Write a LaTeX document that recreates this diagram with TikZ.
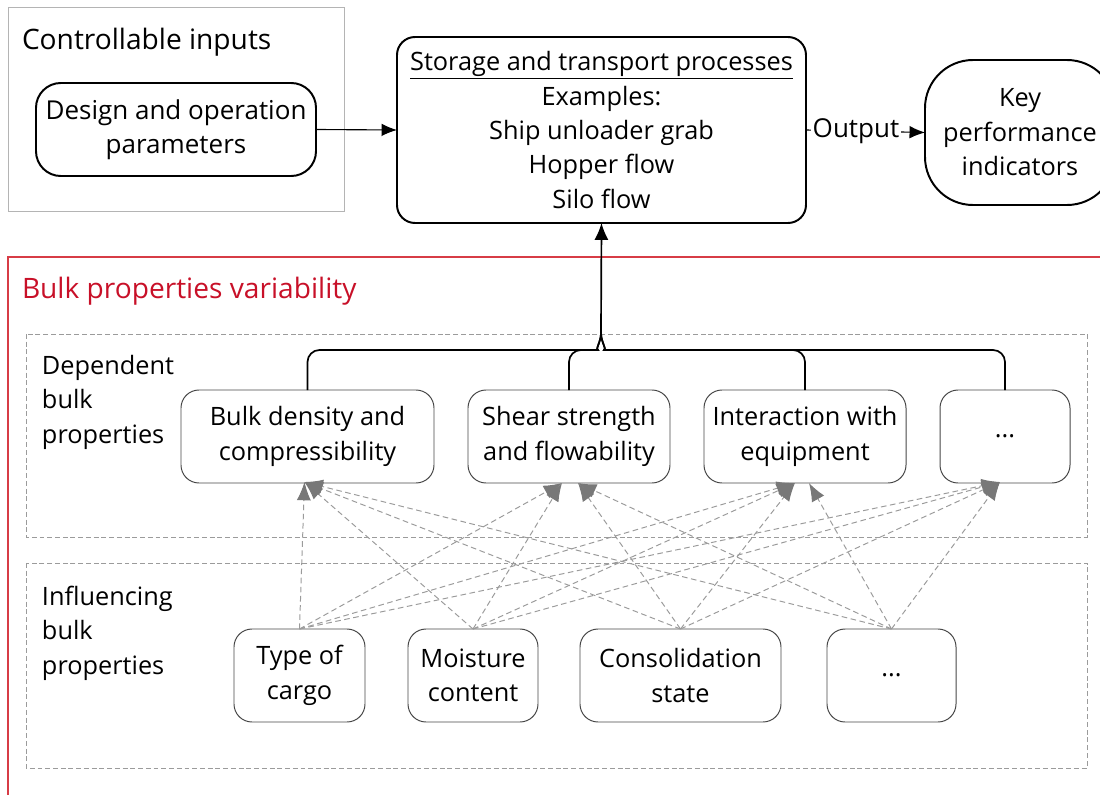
\documentclass[tikz,border=0pt]{standalone}
\usepackage{fontspec}
\setmainfont{Open Sans}
\usetikzlibrary{arrows.meta,calc}
\definecolor{redline}{RGB}{215,60,70}
\definecolor{redtext}{RGB}{200,16,40}
\definecolor{arrgray}{RGB}{120,120,120}
\definecolor{dashgray}{RGB}{155,155,155}
\definecolor{boxgray}{RGB}{180,180,180}
\definecolor{thinline}{RGB}{70,70,70}
\begin{document}
\begin{tikzpicture}[x=0.025cm,y=-0.025cm,
  every node/.style={inner sep=0pt, outer sep=0pt},
  topfont/.style={font=\fontsize{18.5pt}{24.5pt}\selectfont},
  lowfont/.style={font=\fontsize{18pt}{24.5pt}\selectfont},
  labfont/.style={font=\fontsize{20pt}{24.5pt}\selectfont},
  thickbox/.style={draw=black, line width=1.4pt, align=center, topfont},
  thinbox/.style={draw=thinline, line width=0.7pt, rounded corners=0.45cm, align=center, lowfont, minimum height=93*0.025cm},
  grouprect/.style={draw=dashgray, line width=0.7pt, dash pattern=on 3.5pt off 2pt},
  infl/.style={draw=dashgray, line width=0.7pt, dash pattern=on 4pt off 2.5pt, -{Latex[length=13pt,width=10pt,color=arrgray,fill=arrgray]}},
  blackarrow/.style={-{Latex[length=11pt,width=9pt]}, line width=0.8pt},
]
\useasboundingbox (0,0) rectangle (1100,795);
\clip (0,0) rectangle (1100,795);

% controllable inputs
\draw[draw=boxgray, line width=0.7pt] (8,7) rectangle (344,211);
\node[labfont, anchor=west] (ctrlt) at (22,42) {Controllable inputs};
\node[thickbox, rounded corners=0.62cm, minimum width=280*0.025cm, minimum height=93*0.025cm] (design) at (176,129.5) {Design and operation\\parameters};

% processes
\node[thickbox, font=\fontsize{18pt}{24.5pt}\selectfont, rounded corners=0.45cm, minimum width=409*0.025cm, minimum height=186*0.025cm] (store) at (601.5,130) {\underline{Storage and transport processes}\\Examples:\\Ship unloader grab\\Hopper flow\\Silo flow};
\node[thickbox, font=\fontsize{18pt}{24.5pt}\selectfont, rounded corners=1.2cm, minimum width=190*0.025cm, minimum height=145*0.025cm] (kpi) at (1020,132.5) {Key\\performance\\indicators};

\draw[blackarrow] (design.east) -- (store.west);
\draw[blackarrow] (store.east) -- node[pos=0.42, fill=white, topfont, inner sep=1pt] (outl) {Output} (kpi.west);

% bulk properties
\draw[draw=redline, line width=0.8pt] (8,257) rectangle (1120,810);
\node[labfont, anchor=west, text=redtext] (bulkt) at (22,291) {Bulk properties variability};

\draw[grouprect] (26,334) rectangle (1087,537);
\node[lowfont, anchor=north west, align=left] (dept) at (42,355) {Dependent\\bulk\\properties};
\draw[grouprect] (26,563) rectangle (1087,768);
\node[lowfont, anchor=north west, align=left] (inft) at (42,586) {Influencing\\bulk\\properties};

\node[thinbox, minimum width=253*0.025cm] (b1) at (307.5,436.5) {Bulk density and\\compressibility};
\node[thinbox, minimum width=202*0.025cm] (b2) at (569,436.5) {Shear strength\\and flowability};
\node[thinbox, minimum width=202*0.025cm] (b3) at (805,436.5) {Interaction with\\equipment};
\node[thinbox, minimum width=130*0.025cm] (b4) at (1005,436.5) {...};

\node[thinbox, minimum width=131*0.025cm] (s1) at (299.5,675.5) {Type of\\cargo};
\node[thinbox, minimum width=130*0.025cm] (s2) at (473,675.5) {Moisture\\content};
\node[thinbox, minimum width=201*0.025cm] (s3) at (680.5,675.5) {Consolidation\\state};
\node[thinbox, minimum width=129*0.025cm] (s4) at (891.5,675.5) {...};

% tree to process box
\coordinate (J) at (601,333);
\draw[line width=1.2pt, rounded corners=0.3cm] (b1.north) |- (586,350) to[out=0,in=-90] (J);
\draw[line width=1.2pt, rounded corners=0.3cm] (b2.north) |- (586,350) to[out=0,in=-90] (J);
\draw[line width=1.2pt, rounded corners=0.3cm] (b3.north) |- (616,350) to[out=180,in=-90] (J);
\draw[line width=1.2pt, rounded corners=0.3cm] (b4.north) |- (616,350) to[out=180,in=-90] (J);
\draw[-{Latex[length=12pt,width=10pt]}, line width=1.2pt] (J) -- (store.south);

% influence arrows
\coordinate (t1) at ($(b1.south)+(-3,-1)$);
\coordinate (t2a) at ($(b2.south)+(-7,0)$);
\coordinate (t2b) at ($(b2.south)+(9,0)$);
\coordinate (t3a) at ($(b3.south)+(-10,0)$);
\coordinate (t3b) at ($(b3.south)+(4,0)$);
\coordinate (t4) at ($(b4.south)+(-5,-1)$);
\foreach \s/\t in {s1/t1, s2/t1, s3/t1, s4/t1, s1/t2a, s2/t2a, s3/t2b, s4/t2b, s1/t3a, s2/t3a, s3/t3a, s4/t3b, s1/t4, s2/t4, s3/t4, s4/t4}
  \draw[infl] (\s.north) -- (\t);
\end{tikzpicture}
\end{document}
